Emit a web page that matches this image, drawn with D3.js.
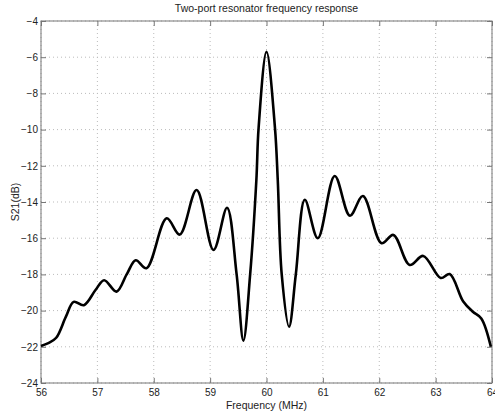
<!DOCTYPE html>
<html>
<head>
<meta charset="utf-8">
<script src="https://cdn.jsdelivr.net/npm/d3@7"></script>
<style>
  body { margin: 0; background: #fff; }
  text { font-family: "Liberation Sans", Arial, sans-serif; fill: #222; }
</style>
</head>
<body>
<div id="chart"></div>
<script>
// S21 response
const freq = [56.00, 56.13, 56.27, 56.44, 56.58, 56.76, 56.97, 57.12, 57.34, 57.52, 57.68,
              57.87, 58.23, 58.46, 58.76, 59.06, 59.30, 59.47, 59.59, 59.71, 59.82,
              59.86, 60.00, 60.15, 60.20, 60.27, 60.40, 60.52, 60.68, 60.91, 61.21,
              61.48, 61.71, 62.04, 62.25, 62.54, 62.78, 63.09, 63.25, 63.49, 63.66,
              63.81, 63.98];
const s21 = [-21.95, -21.80, -21.50, -20.35, -19.52, -19.70, -18.85, -18.32, -18.95, -18.00, -17.22,
             -17.66, -14.90, -15.80, -13.34, -16.65, -14.32, -18.00, -21.66, -18.00, -12.80,
             -9.90, -5.70, -9.90, -12.80, -18.00, -20.89, -18.00, -13.88, -16.00, -12.56,
             -14.76, -13.67, -16.28, -15.82, -17.48, -16.98, -18.20, -17.98, -19.50, -20.06,
             -20.43, -22.00];
const xTicks = [56, 57, 58, 59, 60, 61, 62, 63, 64];
const yTicks = [-24, -22, -20, -18, -16, -14, -12, -10, -8, -6, -4];

const width = 495, height = 417;
const margin = { top: 21, right: 3, bottom: 34, left: 41 };
const w = width - margin.left - margin.right;
const h = height - margin.top - margin.bottom;

const svg = d3.select("#chart").append("svg")
    .attr("width", width)
    .attr("height", height);

const g = svg.append("g")
    .attr("transform", `translate(${margin.left},${margin.top})`);

const x = d3.scaleLinear().domain([56, 64]).range([0, w]);
const y = d3.scaleLinear().domain([-24, -4]).range([h, 0]);

// dotted grid
g.append("g").selectAll("line").data(xTicks).enter().append("line")
    .attr("x1", d => x(d)).attr("x2", d => x(d))
    .attr("y1", 0).attr("y2", h)
    .attr("stroke", "#bbb").attr("stroke-dasharray", "1,3");
g.append("g").selectAll("line").data(yTicks).enter().append("line")
    .attr("y1", d => y(d)).attr("y2", d => y(d))
    .attr("x1", 0).attr("x2", w)
    .attr("stroke", "#bbb").attr("stroke-dasharray", "1,3");

// axes with inward ticks
const styleAxis = sel => {
    sel.select(".domain").remove();
    sel.selectAll(".tick line").attr("stroke", "#777");
    sel.selectAll(".tick text").attr("font-size", 10).attr("fill", "#222");
};
g.append("g").attr("transform", `translate(0,${h})`)
    .call(d3.axisBottom(x).tickValues(xTicks).tickSizeInner(-5).tickSizeOuter(0).tickPadding(6))
    .call(styleAxis);
g.append("g").call(d3.axisTop(x).tickValues(xTicks).tickSizeInner(-5).tickSizeOuter(0).tickFormat(""))
    .call(styleAxis);
g.append("g")
    .call(d3.axisLeft(y).tickValues(yTicks).tickSizeInner(-5).tickSizeOuter(0).tickPadding(3).tickFormat(d3.format("d")))
    .call(styleAxis);
g.append("g").attr("transform", `translate(${w},0)`)
    .call(d3.axisRight(y).tickValues(yTicks).tickSizeInner(-5).tickSizeOuter(0).tickFormat(""))
    .call(styleAxis);

// frame
g.append("rect")
    .attr("width", w).attr("height", h)
    .attr("fill", "none").attr("stroke", "#777");

// response curve
const line = d3.line()
    .x((d, i) => x(freq[i]))
    .y(d => y(d))
    .curve(d3.curveCatmullRom.alpha(0.5));
g.append("path")
    .datum(s21)
    .attr("d", line)
    .attr("fill", "none")
    .attr("stroke", "#000")
    .attr("stroke-width", 2.6)
    .attr("stroke-linejoin", "round");

// labels
svg.append("text")
    .attr("x", margin.left + w / 2).attr("y", 12)
    .attr("text-anchor", "middle").attr("font-size", 10.5)
    .text("Two-port resonator frequency response");
svg.append("text")
    .attr("x", margin.left + w / 2).attr("y", 409)
    .attr("text-anchor", "middle").attr("font-size", 10.5)
    .text("Frequency (MHz)");
svg.append("text")
    .attr("transform", `translate(19,${margin.top + h / 2}) rotate(-90)`)
    .attr("text-anchor", "middle").attr("font-size", 10.5)
    .text("S21(dB)");
</script>
</body>
</html>
